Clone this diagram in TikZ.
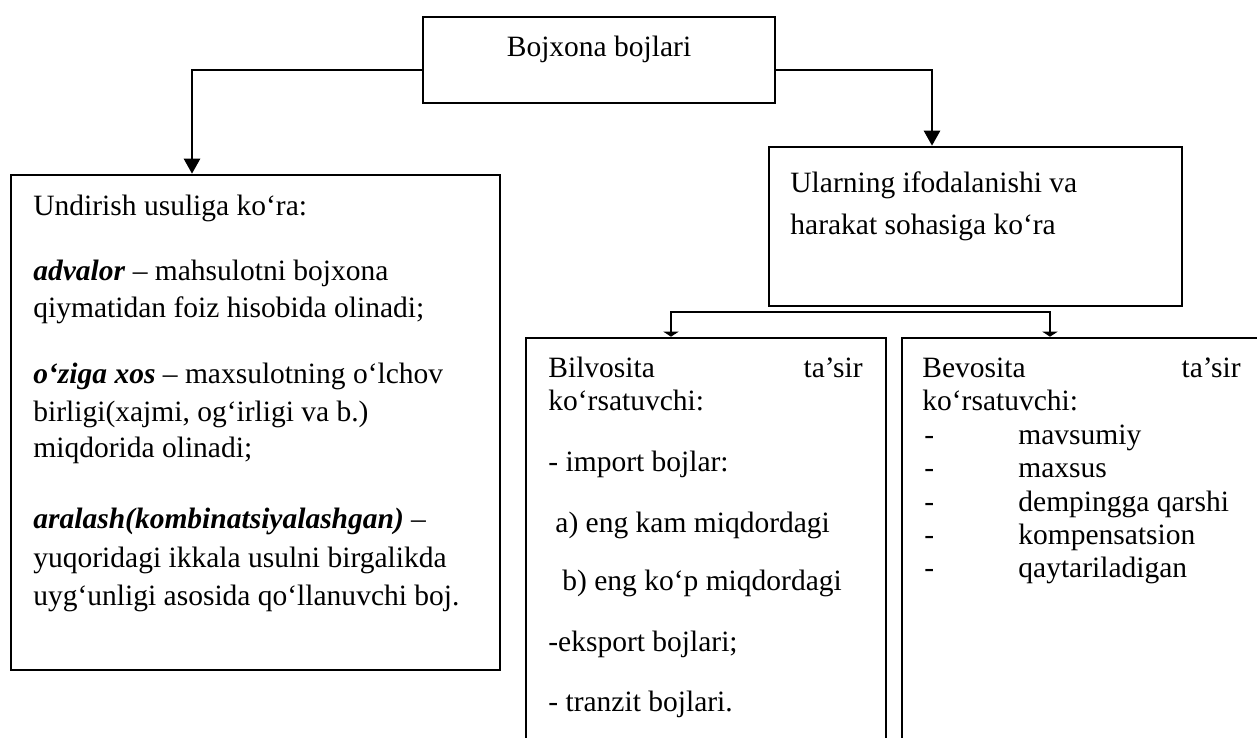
\documentclass[tikz,border=0pt]{standalone}
\usepackage{fontspec}
\setmainfont{Liberation Serif}
\usetikzlibrary{arrows.meta}
\newcommand\fsz{\fontsize{14.75}{18.5}\selectfont}
\begin{document}
\begin{tikzpicture}[x=0.5pt,y=-0.5pt,
  box/.style={draw=black, line width=1.3pt, rectangle, inner sep=0pt, fill=none},
  txt/.style={anchor=base west, inner sep=0pt, font=\fsz},
  txtr/.style={anchor=base east, inner sep=0pt, font=\fsz},
  conn/.style={draw=black, line width=1.3pt, line join=miter},
  bigarr/.style={-{Triangle[width=8pt,length=7.5pt]}},
  smallarr/.style={-{Triangle[width=7.5pt,length=2.5pt]}}]
\useasboundingbox (0,0) rectangle (1257,738);
\clip (0,0) rectangle (1257,738);
% boxes
\node[box, minimum width=176pt, minimum height=43pt] (top) at (599,60) {};
\node[box, minimum width=244.5pt, minimum height=247.5pt] (left) at (255.5,422.5) {};
\node[box, minimum width=206.5pt, minimum height=79.5pt] (mid) at (975.5,226.5) {};
\node[box, minimum width=180pt, minimum height=211pt] (bilv) at (706,549) {};
\node[box, minimum width=181.5pt, minimum height=211pt] (bevo) at (1083.5,549) {};
% top text
\node[anchor=base, inner sep=0pt, font=\fsz] (t0) at (599,57) {Bojxona bojlari};
% left text
\node[txt] (l1) at (33,215) {Undirish usuliga ko‘ra:};
\node[txt] (l2) at (33,280) {\textbf{\textit{advalor}} – mahsulotni bojxona};
\node[txt] (l3) at (33,317) {qiymatidan foiz hisobida olinadi;};
\node[txt] (l4) at (33,383) {\textbf{\textit{o‘ziga xos}} – maxsulotning o‘lchov};
\node[txt] (l5) at (33,421) {birligi(xajmi, og‘irligi va b.)};
\node[txt] (l6) at (33,457) {miqdorida olinadi;};
\node[txt] (l7) at (33,528) {\textbf{\textit{aralash(kombinatsiyalashgan)}} –};
\node[txt] (l8) at (33,567) {yuqoridagi ikkala usulni birgalikda};
\node[txt] (l9) at (33,605) {uyg‘unligi asosida qo‘llanuvchi boj.};
% middle text
\node[txt] (m1) at (790,192) {Ularning ifodalanishi va};
\node[txt] (m2) at (790,234) {harakat sohasiga ko‘ra};
% bilvosita
\node[txt] (b1) at (548,377) {Bilvosita};
\node[txtr] (b1r) at (863,377) {ta’sir};
\node[txt] (b2) at (548,410) {ko‘rsatuvchi:};
\node[txt] (b3) at (548,471) {- import bojlar:};
\node[txt] (b4) at (555,532) {a) eng kam miqdordagi};
\node[txt] (b5) at (562,590) {b) eng ko‘p miqdordagi};
\node[txt] (b6) at (548,651) {-eksport bojlari;};
\node[txt] (b7) at (548,711) {- tranzit bojlari.};
% bevosita
\node[txt] (v1) at (922,377) {Bevosita};
\node[txtr] (v1r) at (1241,377) {ta’sir};
\node[txt] (v2) at (922,410) {ko‘rsatuvchi:};
\node[txt] (d1) at (924,444) {-};
\node[txt] (v3) at (1018,444) {mavsumiy};
\node[txt] (d2) at (924,477) {-};
\node[txt] (v4) at (1018,477) {maxsus};
\node[txt] (d3) at (924,511) {-};
\node[txt] (v5) at (1018,511) {dempingga qarshi};
\node[txt] (d4) at (924,544) {-};
\node[txt] (v6) at (1018,544) {kompensatsion};
\node[txt] (d5) at (924,577) {-};
\node[txt] (v7) at (1018,577) {qaytariladigan};
% connectors
\coordinate (jl) at (192,70);
\coordinate (jr) at (932,70);
\coordinate (ba) at (671,312);
\coordinate (bb) at (1050,312);
\draw[conn, bigarr] (jl -| top.west) -- (jl) -- (jl |- left.north);
\draw[conn, bigarr] (jr -| top.east) -- (jr) -- (jr |- mid.north);
\draw[conn, smallarr] (bb) -- (ba) -- (ba |- bilv.north);
\draw[conn, smallarr] (ba) -- (bb) -- (bb |- bevo.north);
\end{tikzpicture}
\end{document}
